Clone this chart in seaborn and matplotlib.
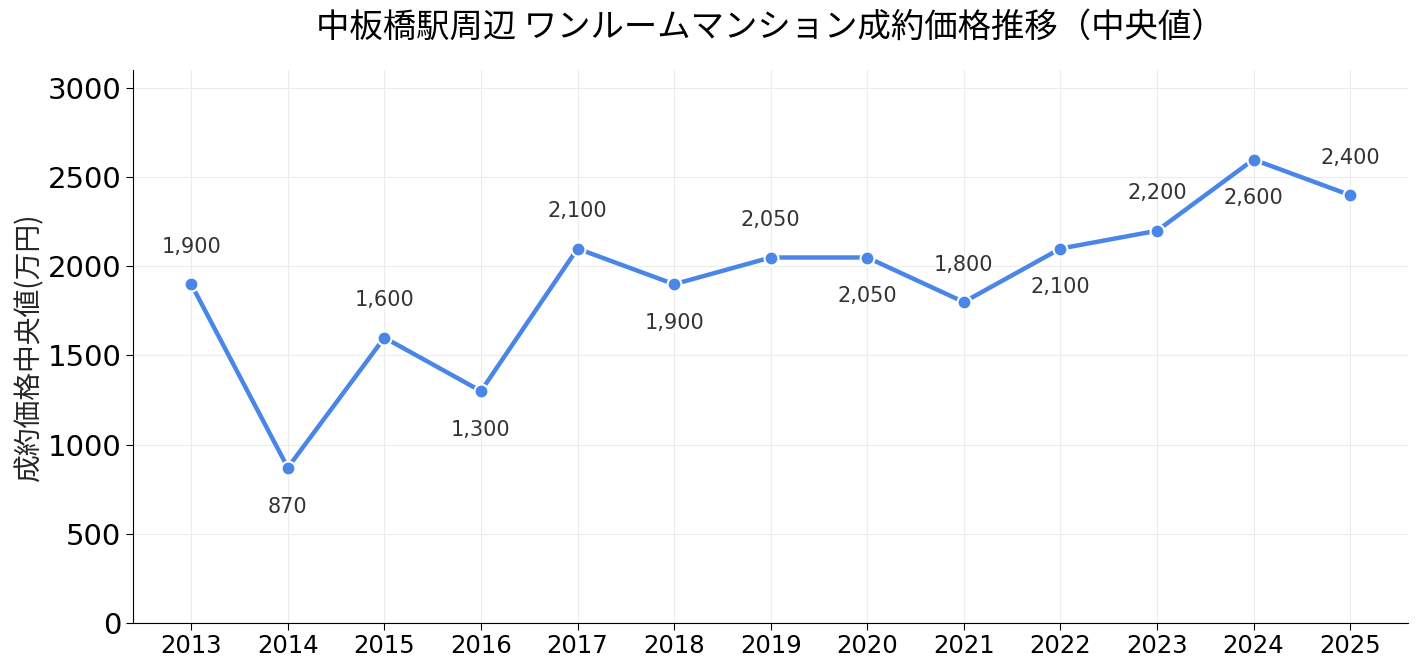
import pandas as pd
import seaborn as sns
import matplotlib.pyplot as plt

years = ['2013', '2014', '2015', '2016', '2017', '2018', '2019', '2020', '2021', '2022', '2023', '2024', '2025']
prices = [1900, 870, 1600, 1300, 2100, 1900, 2050, 2050, 1800, 2100, 2200, 2600, 2400]

df = pd.DataFrame({'year': years, 'price': prices})

sns.set_style('white')
plt.rcParams['font.family'] = ['DejaVu Sans', 'Noto Sans CJK JP']
plt.rcParams['axes.edgecolor'] = 'black'
plt.rcParams['xtick.color'] = 'black'
plt.rcParams['ytick.color'] = 'black'
plt.rcParams['text.color'] = 'black'

fig, ax = plt.subplots(figsize=(14.18, 6.71), dpi=100)
sns.lineplot(x='year', y='price', data=df, color='#4a86e8', linewidth=3.2,
             marker='o', markersize=10, markeredgecolor='white', markeredgewidth=1.5,
             sort=False, ax=ax)

for i, (y, v) in enumerate(zip(years, prices)):
    dy = 27 if i % 2 == 0 else -28
    ax.annotate(f'{v:,}', (i, v), xytext=(0, dy), textcoords='offset points',
                ha='center', va='center', fontsize=15, color='#333333')

ax.set_xlim(-0.6, len(years) - 0.4)
ax.set_ylim(0, 3100)
ax.set_yticks([0, 500, 1000, 1500, 2000, 2500, 3000])
ax.grid(True, color='#ececec', linewidth=0.8)
ax.set_axisbelow(True)
sns.despine(ax=ax)
ax.tick_params(axis='y', labelsize=21, length=5, labelcolor='black')
ax.tick_params(axis='x', labelsize=17.5, length=5, labelcolor='black')
ax.tick_params(left=True, bottom=True)
ax.set_xlabel('')
ax.set_ylabel('成約価格中央値(万円)', fontsize=20, labelpad=2, family=['Noto Sans CJK JP', 'DejaVu Sans'])
ax.set_title('中板橋駅周辺 ワンルームマンション成約価格推移（中央値）', fontsize=24, pad=24,
             family=['Noto Sans CJK JP', 'DejaVu Sans'])

plt.subplots_adjust(left=0.094, right=0.993, top=0.895, bottom=0.072)
plt.savefig('out.png')
